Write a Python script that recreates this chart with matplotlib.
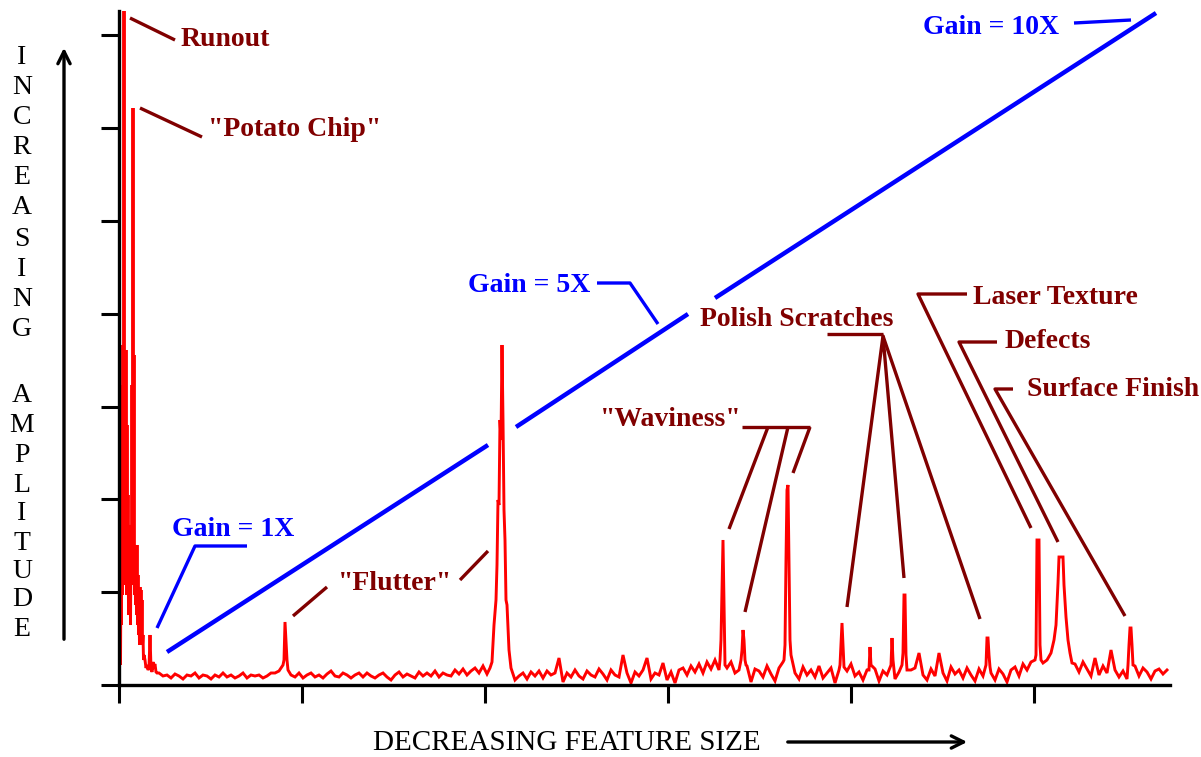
"""Surface spectrum sketch: feature amplitude vs decreasing feature size,
with the gain ramp and labelled defect classes."""
import numpy as np
import matplotlib
matplotlib.use("Agg")
import matplotlib.pyplot as plt

W, H = 1201, 757
SERIF = ["Liberation Serif", "DejaVu Serif"]
RED, BLUE, MAROON = "#ff0000", "#0000ff", "#800000"

# ---- spectrum: noise floor sampled every 4 bins, from bin 40 ----
floor_start, floor_step = 40, 4
floor_h = [
    12, 9, 10, 7, 11, 9, 6, 10, 9, 12, 7, 10, 9, 6, 10, 8, 12, 8, 10, 7, 9, 12, 7, 10, 9,
    10, 7, 9, 12, 12, 14, 9, 7, 10, 8, 12, 7, 10, 12, 8, 10, 7, 11, 14, 9, 8, 12, 10, 7, 10,
    12, 8, 12, 9, 7, 10, 12, 8, 5, 10, 13, 8, 11, 9, 7, 13, 9, 12, 9, 14, 8, 12, 10, 9, 15,
    11, 16, 10, 14, 17, 12, 19, 11, 15, 17, 14, 13, 15, 12, 5, 9, 12, 6, 13, 9, 14, 7, 14, 10, 12,
    27, 3, 12, 8, 15, 9, 6, 14, 10, 8, 16, 11, 5, 15, 10, 8, 30, 12, 2, 13, 9, 15, 27, 6, 12,
    10, 22, 5, 13, 2, 15, 17, 10, 19, 13, 21, 12, 23, 16, 25, 15, 21, 17, 23, 12, 15, 9, 19, 3, 16,
    14, 8, 19, 11, 4, 17, 23, 9, 16, 12, 6, 18, 10, 15, 8, 19, 7, 12, 17, 2, 15, 6, 14, 21, 9,
    13, 5, 15, 9, 16, 4, 14, 10, 17, 6, 13, 19, 8, 15, 17, 32, 10, 5, 16, 9, 32, 12, 4, 18, 11,
    15, 7, 17, 10, 4, 16, 9, 19, 12, 5, 16, 11, 3, 15, 18, 9, 21, 15, 23, 17, 25, 22, 28, 30, 32,
    30, 30, 30, 30, 21, 13, 23, 16, 9, 27, 10, 19, 12, 35, 15, 8, 14, 6, 10, 19, 9, 17, 13, 6, 14,
    16, 11, 15,
]

# peaks: (bin, amplitude) points; half bins carry the dips
peak_runout_chip = [
    (0, 2), (0.5, 30), (1, 60), (1.5, 20), (2, 120), (2.5, 60), (3, 300), (3.5, 90),
    (4, 340), (4.5, 120), (5, 700), (5.5, 100), (6, 320), (6.5, 110), (7, 335),
    (7.5, 90), (8, 260), (8.5, 100), (9, 190), (9.5, 70), (10, 150), (10.5, 90),
    (11, 160), (11.5, 60), (12, 140), (12.5, 100), (13, 300), (13.5, 120), (14, 577),
    (14.5, 110), (15, 330), (15.5, 90), (16, 140), (16.5, 80), (17, 130), (17.5, 70),
    (18, 140), (18.5, 60), (19, 110), (19.5, 50), (20, 80), (20.5, 40), (21, 98),
    (21.5, 50), (22, 95), (22.5, 45), (23, 85), (23.5, 40), (24, 50), (24.5, 25),
    (25, 30), (26, 25), (27, 17), (28, 20), (29, 15), (30, 17), (31, 50), (32, 17),
    (33, 13), (34, 23), (35, 19), (36, 21), (37, 13), (38, 12),
]
peak_flutter_small = [(164, 20), (165, 25), (166, 63), (167, 45), (168, 25), (169, 15)]
peak_flutter = [
    (371, 17), (373, 23), (375, 60), (377, 85), (378, 120), (379, 185), (380, 180),
    (381, 265), (382, 245), (383, 340), (384, 265), (385, 175), (386, 145),
    (387, 85), (388, 80), (390, 35), (392, 17), (394, 11),
]
peak_wavy_1 = [(601, 25), (602, 45), (603, 95), (604, 145), (605, 85), (606, 20)]
peak_wavy_2 = [(622, 25), (623, 35), (624, 55), (625, 45), (626, 25), (627, 20)]
peak_wavy_3 = [(665, 25), (666, 40), (667, 125), (668, 195), (669, 200), (670, 125),
               (671, 45), (672, 30)]
peak_polish_1 = [(721, 20), (722, 42), (723, 62), (724, 40), (725, 18)]
peak_small_1 = [(750, 15), (751, 38), (752, 20)]
peak_small_2 = [(772, 20), (773, 47), (774, 25)]
peak_polish_2 = [(783, 20), (784, 32), (785, 90), (786, 90), (787, 30), (788, 15)]
peak_polish_3 = [(867, 20), (868, 47), (869, 47), (870, 30), (871, 18)]
peak_laser = [(916, 25), (917, 30), (918, 145), (920, 145), (921, 40), (922, 25)]
peak_defects = [
    (928, 25), (932, 32), (935, 45), (937, 60), (939, 102), (940, 128), (942, 128),
    (944, 128), (945, 100), (947, 68), (949, 45), (951, 32), (953, 22),
]
peak_surface = [(1009, 20), (1010, 40), (1011, 57), (1012, 57), (1013, 40), (1014, 20)]
peaks = [peak_runout_chip, peak_flutter_small, peak_flutter, peak_wavy_1, peak_wavy_2,
         peak_wavy_3, peak_polish_1, peak_small_1, peak_small_2, peak_polish_2,
         peak_polish_3, peak_laser, peak_defects, peak_surface]

# gain ramp, drawn in three pieces (gaps left for the spike and the label)
gain_segments = [
    [(48, 33), (369, 240)],
    [(397, 258), (569, 371)],
    [(596, 387), (1037, 672)],
]

# annotation labels: text, x, y, colour, pointer polyline
labels = [
    ("Runout", 62, 645, MAROON, [(11, 667), (56, 645)]),
    ('"Potato Chip"', 89, 555, MAROON, [(21, 577), (83, 548)]),
    ("Gain = 1X", 53, 155, BLUE, [(38, 57), (76, 139), (128, 139)]),
    ('"Flutter"', 219, 102, MAROON, [(174, 69), (208, 98)]),
    (None, 0, 0, MAROON, [(341, 105), (369, 134)]),
    ("Gain = 5X", 349, 400, BLUE, [(478, 402), (511, 402), (539, 361)]),
    ('"Waviness"', 481, 265, MAROON, [(623, 258), (691, 258)]),
    (None, 0, 0, MAROON, [(649, 258), (610, 156)]),
    (None, 0, 0, MAROON, [(669, 258), (626, 73)]),
    (None, 0, 0, MAROON, [(691, 258), (674, 212)]),
    ("Polish Scratches", 581, 365, MAROON, [(708, 351), (764, 351)]),
    (None, 0, 0, MAROON, [(728, 78), (764, 349), (785, 107)]),
    (None, 0, 0, MAROON, [(764, 349), (861, 66)]),
    ("Laser Texture", 854, 387, MAROON, [(848, 391), (799, 391), (912, 157)]),
    ("Defects", 886, 343, MAROON, [(878, 343), (840, 343), (939, 143)]),
    ("Surface Finish", 908, 296, MAROON, [(894, 296), (876, 296), (1006, 69)]),
    ("Gain = 10X", 804, 657, BLUE, [(955, 662), (1012, 665)]),
]

y_word_1, y_word_2 = "INCREASING", "AMPLITUDE"
y_letters_1 = [57, 87, 117, 148, 178, 208, 239, 269, 300, 330]
y_letters_2 = [395, 425, 455, 485, 513, 543, 572, 600, 630]
x_label = "DECREASING FEATURE SIZE"

# ---- assemble spectrum ----
fx = floor_start + floor_step * np.arange(len(floor_h))
fh = np.array(floor_h, dtype=float)
keep = np.ones(len(fx), bool)
for grp in peaks:
    xs = [p[0] for p in grp]
    keep &= ~((fx >= min(xs)) & (fx <= max(xs)))
pts = list(zip(fx[keep], fh[keep]))
for grp in peaks:
    pts += grp
pts.sort(key=lambda p: p[0])
spec_x = np.array([p[0] for p in pts])
spec_y = np.array([p[1] for p in pts])

# ---- figure ----
fig = plt.figure(figsize=(W / 100, H / 100), dpi=100)
ax = fig.add_axes([119 / W, 72 / H, 1051 / W, 674 / H])
ax.set_xlim(0, 1051)
ax.set_ylim(0, 674)
for s in ("top", "right"):
    ax.spines[s].set_visible(False)
for s in ("left", "bottom"):
    ax.spines[s].set_linewidth(2.4)
ax.set_xticks(np.arange(6) * 183)
ax.set_yticks(np.arange(8) * 92.8)
ax.tick_params(direction="out", length=13, width=2.2, labelbottom=False, labelleft=False)

ax.plot(spec_x, spec_y, color=RED, lw=2.1, solid_joinstyle="miter")

for seg in gain_segments:
    ax.plot([p[0] for p in seg], [p[1] for p in seg], color=BLUE, lw=3.2,
            solid_capstyle="butt")

for text, tx, ty, col, line in labels:
    ax.plot([p[0] for p in line], [p[1] for p in line], color=col, lw=2.4,
            solid_capstyle="butt", clip_on=False)
    if text:
        ax.text(tx, ty, text, color=col, fontsize=20, fontweight="bold",
                family=SERIF, ha="left", va="center", clip_on=False)

# y label: stacked letters and up arrow
for ch, yc in zip(y_word_1, y_letters_1):
    fig.text(22 / W, 1 - yc / H, ch, ha="center", va="center", fontsize=20, family=SERIF)
for ch, yc in zip(y_word_2, y_letters_2):
    fig.text(22 / W, 1 - yc / H, ch, ha="center", va="center", fontsize=20, family=SERIF)
fig.add_artist(matplotlib.patches.FancyArrowPatch(
    (64, H - 642), (64, H - 45), transform=None, arrowstyle="->",
    mutation_scale=22, lw=2.4, color="black"))

# x label and right arrow
fig.text(567 / W, 1 - 743 / H, x_label, ha="center", va="center", fontsize=21, family=SERIF)
fig.add_artist(matplotlib.patches.FancyArrowPatch(
    (785, H - 742), (970, H - 742), transform=None, arrowstyle="->",
    mutation_scale=22, lw=2.4, color="black"))

fig.savefig("out.png", dpi=100, facecolor="white")
print("wrote out.png")
